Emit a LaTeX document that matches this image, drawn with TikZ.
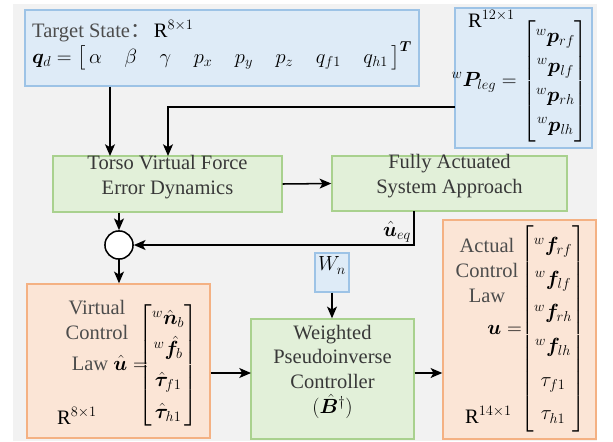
\RequirePackage{fix-cm}
\documentclass[tikz,border=0pt]{standalone}
\usepackage{amsmath}
\usepackage{bm}
\usepackage{fontspec}
\setmainfont{Liberation Serif}
\newfontfamily\cjk{Noto Sans CJK SC}
\usetikzlibrary{arrows.meta,fit}

\definecolor{bggray}{HTML}{F2F2F2}
\definecolor{bluefill}{HTML}{DEEBF7}
\definecolor{blueline}{HTML}{9DC3E6}
\definecolor{greenfill}{HTML}{E2F0D9}
\definecolor{greenline}{HTML}{A9D18E}
\definecolor{orangefill}{HTML}{FBE5D6}
\definecolor{orangeline}{HTML}{F4B183}

\tikzset{
  blockbox/.style={rectangle, inner sep=0pt, line width=1.2pt, align=center, text=black!78},
  bluebox/.style={blockbox, draw=blueline, fill=bluefill},
  greenbox/.style={blockbox, draw=greenline, fill=greenfill},
  orangebox/.style={blockbox, draw=orangeline, fill=orangefill},
  sumnode/.style={circle, draw, line width=1.3pt, fill=white, minimum size=24pt, inner sep=0pt},
  conn/.style={line width=1.3pt, -{Stealth[length=10pt,width=8.5pt,inset=2.5pt]}},
  txtnode/.style={inner sep=0pt, text=black},
}

\begin{document}
\begin{tikzpicture}[x=0.03cm, y=-0.03cm, font=\fontsize{17.5}{21.3}\selectfont]
  \useasboundingbox (0,0) rectangle (613,441);
  \fill[bggray] (13,4) rectangle (597,441);

  % blocks
  \node[bluebox, fit={(25,10) (419,86)}] (target) {};
  \node[bluebox, fit={(455,8) (592,148)}] (pleg) {};
  \node[greenbox, fit={(53,156) (282,212)}] (torso) {Torso Virtual Force\\Error Dynamics};
  \node[greenbox, fit={(332,156) (567,211)}] (fully) {Fully Actuated\\System Approach};
  \node[sumnode] (sum) at (119,245) {};
  \node[orangebox, fit={(27,284) (210,438)}] (virtual) {};
  \node[bluebox, fit={(315,253) (349,292)}, text=black] (wn) {$W_n$};
  \node[greenbox, fit={(251,319) (414,439)}] (weighted)
    {Weighted\\Pseudoinverse\\Controller\\\textcolor{black}{$(\hat{\bm B}^{\dagger})$}};
  \node[orangebox, fit={(443,220) (596,439)}] (actual) {};

  % target state
  \node[txtnode, anchor=base west, text=black!70] (tstate) at (32,37)
    {Target State{\cjk ：}\,\textcolor{black}{R$^{8\times1}$}};
  \node[txtnode, anchor=base west] (qd) at (32,63)
    {$\bm{q}_d=\bigl[\,\alpha\hspace{1.1em}\beta\hspace{1.1em}\gamma\hspace{1.1em}p_x\hspace{1.1em}p_y\hspace{1.1em}p_z\hspace{1.1em}q_{f1}\hspace{1.1em}q_{h1}\,\bigr]^{\bm T}$};

  % leg positions
  \node[txtnode, anchor=base west] (r12) at (468,27) {R$^{12\times1}$};
  \node[txtnode] (plegeq) at (520,81)
    {\renewcommand\arraystretch{1.18}$^{w}\bm{P}_{leg}=\left[\begin{matrix}{}^{w}\bm{p}_{rf}\\ {}^{w}\bm{p}_{lf}\\ {}^{w}\bm{p}_{rh}\\ {}^{w}\bm{p}_{lh}\end{matrix}\right]$};

  % virtual control law
  \node[txtnode, text=black!70, align=center, anchor=north] (vname) at (97,300) {Virtual\\Control};
  \node[txtnode, anchor=east] (vmat) at (198,365)
    {\renewcommand\arraystretch{1.25}$\left[\begin{matrix}{}^{w}\hat{\bm n}_b\\ {}^{w}\hat{\bm f}_b\\ \hat{\bm\tau}_{f1}\\ \hat{\bm\tau}_{h1}\end{matrix}\right]$};
  \node[txtnode, anchor=base east] (vlaw) at (148,370)
    {\textcolor{black!70}{Law} $\hat{\bm u}=$};
  \node[txtnode, anchor=base west] (r8) at (57,424) {R$^{8\times1}$};

  % actual control law
  \node[txtnode, text=black!70, align=center, anchor=north] (aname) at (487,238) {Actual\\Control\\Law};
  \node[txtnode, anchor=east] (amat) at (586,329)
    {\renewcommand\arraystretch{1.35}$\left[\begin{matrix}{}^{w}\bm f_{rf}\\ {}^{w}\bm f_{lf}\\ {}^{w}\bm f_{rh}\\ {}^{w}\bm f_{lh}\\ \tau_{f1}\\ \tau_{h1}\end{matrix}\right]$};
  \node[txtnode, anchor=base east] (alaw) at (522,334) {$\bm u=$};
  \node[txtnode, anchor=base west] (r14) at (465,423) {R$^{14\times1}$};

  \coordinate (tin1) at (110,156);
  \coordinate (tin2) at (168,156);
  \coordinate (plegout) at (455,107);
  \coordinate (ueqout) at (414,211);
  \coordinate (ctlin) at (251,373);

  \begin{scope}[conn]
    \draw (target.south -| tin1) -- (tin1);
    \draw (plegout) -| (tin2);
    \draw (torso.east) -- (fully.west);
    \draw (torso.south -| sum) -- (sum.north);
    \draw (ueqout) |- (sum.east)
      node[txtnode, pos=0.5, above left, inner sep=2pt] (ueq) {$\hat{\bm u}_{eq}$};
    \draw (sum.south) -- (virtual.north -| sum);
    \draw (virtual.east |- ctlin) -- (ctlin);
    \draw (wn.south) -- (weighted.north -| wn);
    \draw (weighted.east |- ctlin) -- (actual.west |- ctlin);
  \end{scope}
\end{tikzpicture}
\end{document}
